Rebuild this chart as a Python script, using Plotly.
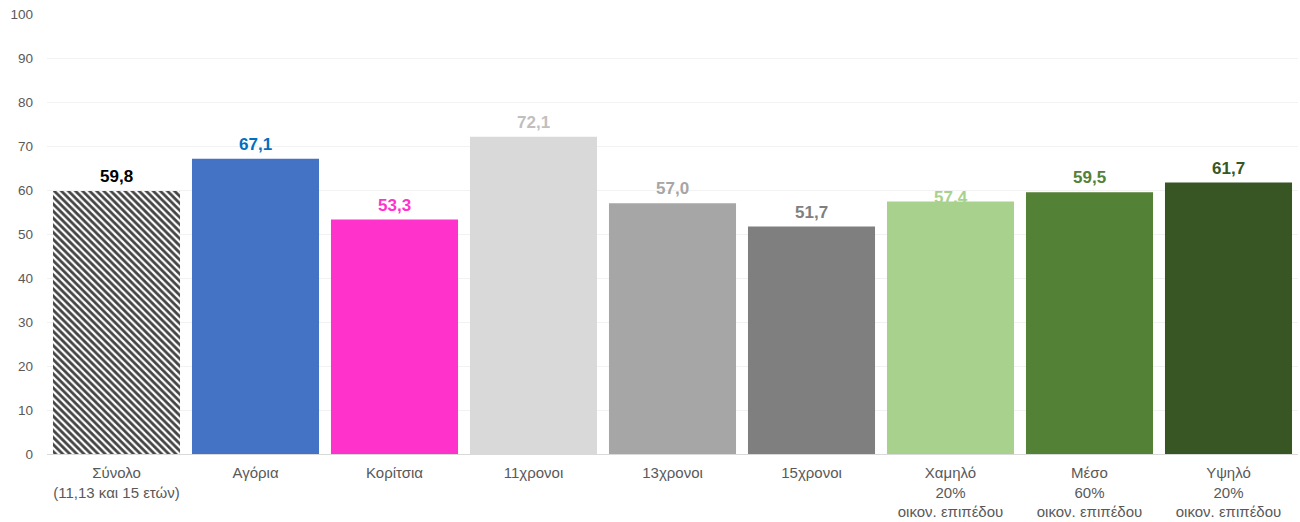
import plotly.graph_objects as go

categories = ["Σύνολο<br>(11,13 και 15 ετών)", "Αγόρια", "Κορίτσια", "11χρονοι", "13χρονοι",
              "15χρονοι", "Χαμηλό<br>20%<br>οικον. επιπέδου", "Μέσο<br>60%<br>οικον. επιπέδου",
              "Υψηλό<br>20%<br>οικον. επιπέδου"]
values = [59.8, 67.1, 53.3, 72.1, 57.0, 51.7, 57.4, 59.5, 61.7]
labels = ["59,8", "67,1", "53,3", "72,1", "57,0", "51,7", "57,4", "59,5", "61,7"]
bar_colors = ["#FFFFFF", "#4472C4", "#FF33CC", "#D9D9D9", "#A6A6A6", "#7F7F7F",
              "#A9D18E", "#538135", "#375623"]
label_colors = ["#000000", "#0070C0", "#FF33CC", "#BFBFBF", "#A6A6A6", "#7F7F7F",
                "#A9D18E", "#538135", "#375623"]
label_shift = [3, 3, 2, 3, 3, 3, -8, 3, 3]

x_idx = list(range(len(categories)))
pattern_shapes = ["\\"] + [""] * (len(categories) - 1)

fig = go.Figure()
fig.add_trace(go.Bar(
    x=x_idx, y=values,
    marker=dict(
        color=bar_colors,
        line=dict(width=0),
        pattern=dict(shape=pattern_shapes, fgcolor="#000000",
                     fgopacity=1, size=5, solidity=0.55, fillmode="overlay"),
    ),
    hoverinfo="skip",
))

for i, (v, t, c, s) in enumerate(zip(values, labels, label_colors, label_shift)):
    fig.add_annotation(x=i, y=v, text="<b>" + t + "</b>", showarrow=False,
                       yanchor="bottom", yshift=s,
                       font=dict(family="Liberation Sans, Arial", size=17, color=c))

fig.update_layout(
    width=1300, height=522,
    margin=dict(l=47, r=2, t=14, b=68),
    paper_bgcolor="white", plot_bgcolor="white",
    bargap=0.086,
    showlegend=False,
    font=dict(family="Liberation Sans, Arial", color="#595959"),
)
fig.update_xaxes(
    tickmode="array", tickvals=x_idx, ticktext=categories,
    tickfont=dict(size=15, color="#595959"), automargin=False,
    showgrid=False, showline=True, linecolor="#D9D9D9", linewidth=1,
    ticks="", range=[-0.5, len(categories) - 0.5], ticklabelstandoff=5,
)
fig.update_yaxes(
    range=[0, 100], dtick=10, tickfont=dict(size=13.5, color="#595959"),
    showgrid=True, gridcolor="#F2F2F2", gridwidth=1, zeroline=False,
    ticks="", ticklabelstandoff=13, automargin=False,
)

fig.write_html("out.html")
